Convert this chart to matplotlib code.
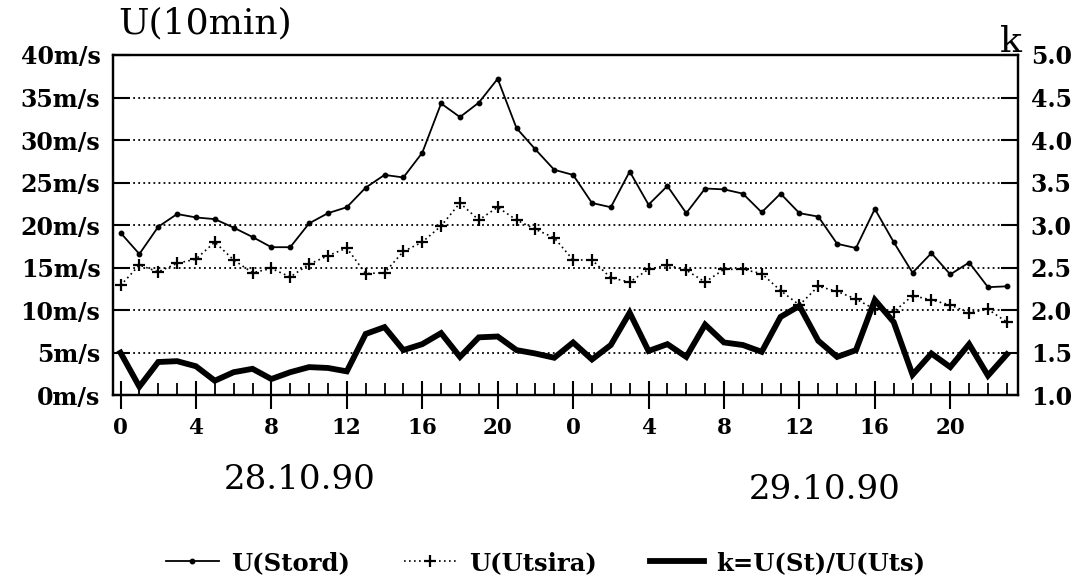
import numpy as np
import matplotlib
matplotlib.use("Agg")
import matplotlib.pyplot as plt
from matplotlib.ticker import MultipleLocator

plt.rcParams['font.family'] = ['DejaVu Serif']

# hours from 28.10.90 00:00 to 29.10.90 23:00
hours = list(range(48))

u_stord = [19.1, 16.6, 19.8, 21.3, 20.9, 20.7, 19.7, 18.6, 17.4, 17.4,
           20.2, 21.4, 22.1, 24.4, 25.9, 25.6, 28.5, 34.3, 32.7, 34.4,
           37.2, 31.4, 28.9, 26.5, 25.9, 22.6, 22.1, 26.3, 22.4, 24.6,
           21.4, 24.3, 24.2, 23.7, 21.5, 23.7, 21.4, 21.0, 17.8, 17.3,
           21.9, 18.0, 14.4, 16.7, 14.2, 15.6, 12.7, 12.8]

u_utsira = [12.9, 15.3, 14.5, 15.5, 16.0, 18.0, 15.9, 14.4, 14.9, 13.9,
            15.4, 16.4, 17.3, 14.3, 14.4, 16.9, 18.0, 19.9, 22.6, 20.6,
            22.1, 20.6, 19.5, 18.5, 15.9, 15.9, 13.8, 13.3, 14.8, 15.3,
            14.7, 13.3, 14.8, 14.8, 14.3, 12.3, 10.6, 12.8, 12.2, 11.3,
            10.1, 9.8, 11.7, 11.2, 10.6, 9.7, 10.1, 8.6]

k_ratio = [1.50, 1.10, 1.39, 1.40, 1.34, 1.17, 1.27, 1.31, 1.19, 1.27,
           1.33, 1.32, 1.28, 1.72, 1.80, 1.53, 1.60, 1.73, 1.45, 1.68,
           1.69, 1.53, 1.49, 1.44, 1.62, 1.42, 1.59, 1.97, 1.52, 1.60,
           1.45, 1.83, 1.62, 1.59, 1.51, 1.92, 2.05, 1.64, 1.45, 1.53,
           2.12, 1.86, 1.24, 1.49, 1.33, 1.60, 1.23, 1.48]

left_ticks = [0, 5, 10, 15, 20, 25, 30, 35, 40]
left_labels = ["0m/s", "5m/s", "10m/s", "15m/s", "20m/s", "25m/s", "30m/s", "35m/s", "40m/s"]
right_ticks = [1.0, 1.5, 2.0, 2.5, 3.0, 3.5, 4.0, 4.5, 5.0]
x_major = list(range(0, 48, 4))
x_labels = ["0", "4", "8", "12", "16", "20", "0", "4", "8", "12", "16", "20"]

fig = plt.figure(figsize=(10.82, 5.82), dpi=100)
ax = fig.add_axes([0.1044, 0.321, 0.8366, 0.5845])
ax2 = ax.twinx()

# dotted grid
for y in left_ticks[1:-1]:
    ax.axhline(y, color="black", lw=1.3, ls=(0, (1, 1.8)), zorder=1)

l1, = ax.plot(hours, u_stord, color="black", lw=1.3, marker="o", ms=3.2, zorder=3)
l2, = ax.plot(hours, u_utsira, color="black", lw=1.2, ls=(0, (1, 2)),
              marker="+", ms=9, mew=1.6, zorder=3)
l3, = ax2.plot(hours, k_ratio, color="black", lw=4.2, solid_joinstyle="miter", zorder=3)

ax.set_xlim(-0.4, 47.6)
ax.set_ylim(0, 40)
ax2.set_ylim(1.0, 5.0)

ax.set_yticks(left_ticks)
ax.set_yticklabels(left_labels, fontweight="bold", fontsize=17)
ax.tick_params(axis="y", direction="in", length=12, width=1.5, pad=9)

ax2.set_yticks(right_ticks)
ax2.set_yticklabels([f"{v:.1f}" for v in right_ticks], fontweight="bold", fontsize=17)
ax2.tick_params(axis="y", direction="in", length=12, width=1.5, pad=9)

ax.set_xticks(x_major)
ax.set_xticklabels(x_labels, fontweight="bold", fontsize=15.5)
ax.xaxis.set_minor_locator(MultipleLocator(1))
ax.tick_params(axis="x", which="major", direction="inout", length=20, width=1.5, pad=6)
ax.tick_params(axis="x", which="minor", direction="in", length=9, width=1.3)

for a in (ax, ax2):
    for s in a.spines.values():
        s.set_linewidth(1.6)

fig.text(0.109, 0.959, "U(10min)", fontsize=26, ha="left", va="center")
fig.text(0.934, 0.928, "k", fontsize=26, ha="center", va="center")
fig.text(0.277, 0.176, "28.10.90", fontsize=24.5, ha="center", va="center")
fig.text(0.762, 0.158, "29.10.90", fontsize=24.5, ha="center", va="center")

fig.legend([l1, l2, l3], ["U(Stord)", "U(Utsira)", "k=U(St)/U(Uts)"],
           loc="center", bbox_to_anchor=(0.504, 0.033), ncol=3, frameon=False,
           prop=dict(weight="bold", size=17.5), handlelength=2.2,
           columnspacing=2.2, handletextpad=0.5)

fig.savefig("out.png", dpi=100)
